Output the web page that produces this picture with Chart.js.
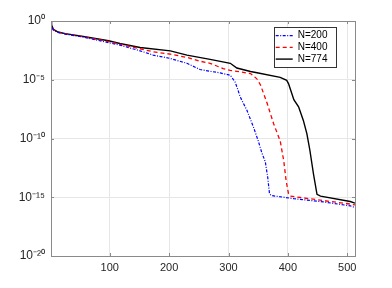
<!DOCTYPE html>
<html>
<head>
<meta charset="utf-8">
<script src="https://cdn.jsdelivr.net/npm/chart.js@4.4.1/dist/chart.umd.min.js"></script>
<style>
  html, body { margin: 0; padding: 0; background: #fff; }
</style>
</head>
<body>
<canvas id="svChart" width="392" height="288"></canvas>
<script>
// values; y is kept as log10 and turned into the value below
const seriesNames = ['N=200', 'N=400', 'N=774'];

const n200X   = [1, 2, 5, 13, 25, 58, 98, 117, 151, 173, 202, 230, 252, 286, 303, 311, 314, 320, 331, 342, 350, 356, 362, 366, 369, 372, 410, 460, 505, 513];
const n200Log = [0, -0.4, -0.77, -0.97, -1.11, -1.4, -1.85, -2.05, -2.54, -2.9, -3.19, -3.6, -4.13, -4.42, -4.62, -5.19, -5.6, -6.5, -7.6, -9.03, -10.2, -11.2, -12.0, -13.3, -14.7, -14.85, -15.12, -15.4, -15.73, -15.87];

const n400X   = [1, 2, 5, 13, 25, 58, 98, 117, 173, 202, 230, 252, 269, 291, 303, 337, 345, 349, 354, 365, 376, 387, 393, 397, 401, 404, 421, 460, 505, 513];
const n400Log = [0, -0.38, -0.75, -0.96, -1.1, -1.37, -1.75, -1.97, -2.62, -2.82, -3.1, -3.42, -3.6, -4.05, -4.2, -4.47, -4.8, -5.0, -5.47, -7.0, -8.75, -10.2, -11.9, -13.6, -14.7, -14.9, -15.02, -15.28, -15.58, -15.65];

const n774X   = [1, 2, 5, 13, 25, 58, 98, 117, 151, 202, 230, 269, 303, 314, 337, 348, 387, 398, 401, 410, 418, 426, 432, 437, 443, 449, 455, 505, 513];
const n774Log = [0, -0.35, -0.72, -0.94, -1.07, -1.34, -1.68, -1.91, -2.25, -2.54, -2.9, -3.27, -3.6, -4.0, -4.3, -4.4, -4.8, -5.05, -5.33, -6.7, -7.3, -8.46, -9.6, -11.0, -13.0, -14.75, -14.9, -15.36, -15.5];

const xTicks = [100, 200, 300, 400, 500];
const yTicks = [1e-20, 1e-15, 1e-10, 1e-5, 1];
const yTickLabels = ['10\u207B\u00B2\u2070', '10\u207B\u00B9\u2075', '10\u207B\u00B9\u2070', '10\u207B\u2075', '10\u2070'];

const fontFam = "'Liberation Sans', Arial, Helvetica, sans-serif";

function toPoints(xs, logs) {
    return xs.map((x, i) => ({ x: x, y: Math.pow(10, logs[i]) }));
}

// matlab style box with inner ticks, and a framed legend inside the axes
const boxPlugin = {
    id: 'boxPlugin',
    afterLayout(chart) {
        const lg = chart.legend;
        const a = chart.chartArea;
        lg.left = a.right - 81;
        lg.top = a.top + 8;
        lg.right = lg.left + 62;
        lg.bottom = lg.top + 40;
    },
    afterDraw(chart) {
        const ctx = chart.ctx;
        const a = chart.chartArea;
        const xs = chart.scales.x;
        const ys = chart.scales.y;
        ctx.save();
        ctx.strokeStyle = '#8a8a8a';
        ctx.lineWidth = 1;
        ctx.strokeRect(Math.round(a.left) + 0.5, Math.round(a.top) + 0.5, Math.round(a.right - a.left), Math.round(a.bottom - a.top));
        ctx.beginPath();
        xTicks.forEach(v => {
            const px = Math.round(xs.getPixelForValue(v)) + 0.5;
            ctx.moveTo(px, a.bottom); ctx.lineTo(px, a.bottom - 3);
            ctx.moveTo(px, a.top); ctx.lineTo(px, a.top + 3);
        });
        yTicks.forEach(v => {
            const py = Math.round(ys.getPixelForValue(v)) + 0.5;
            ctx.moveTo(a.left, py); ctx.lineTo(a.left + 3, py);
            ctx.moveTo(a.right, py); ctx.lineTo(a.right - 3, py);
        });
        ctx.stroke();

        const lg = chart.legend;
        const bx = Math.round(a.right - 81);
        const by = Math.round(a.top + 6);
        ctx.fillStyle = '#fff';
        ctx.fillRect(bx, by, 62, 40);
        ctx.strokeStyle = '#333';
        ctx.strokeRect(bx + 0.5, by + 0.5, 62, 40);
        ctx.restore();
        lg.draw();
    }
};

const ctx = document.getElementById('svChart').getContext('2d');

const myChart = new Chart(ctx, {
    type: 'line',
    data: {
        datasets: [
            {
                label: seriesNames[0],
                data: toPoints(n200X, n200Log),
                borderColor: '#0000ff',
                borderWidth: 1.2,
                borderDash: [3, 1.5, 1, 1.5],
                pointRadius: 0,
                fill: false
            },
            {
                label: seriesNames[1],
                data: toPoints(n400X, n400Log),
                borderColor: '#ff0000',
                borderWidth: 1.3,
                borderDash: [4, 3],
                pointRadius: 0,
                fill: false
            },
            {
                label: seriesNames[2],
                data: toPoints(n774X, n774Log),
                borderColor: '#000000',
                borderWidth: 1.4,
                pointRadius: 0,
                fill: false
            }
        ]
    },
    options: {
        responsive: false,
        animation: false,
        devicePixelRatio: 1,
        layout: { padding: { left: 0, top: 21, right: 37, bottom: 0 } },
        plugins: {
            tooltip: { enabled: false },
            legend: {
                position: 'chartArea',
                align: 'start',
                labels: {
                    usePointStyle: true,
                    pointStyle: 'line',
                    pointStyleWidth: 17,
                    padding: 1.7,
                    color: '#000',
                    font: { size: 10, family: fontFam },
                    generateLabels: (chart) => {
                        const items = Chart.defaults.plugins.legend.labels.generateLabels(chart);
                        items.forEach(it => {
                            const ds = chart.data.datasets[it.datasetIndex];
                            it.lineDash = ds.borderDash || [];
                            it.lineWidth = ds.borderWidth;
                            it.strokeStyle = ds.borderColor;
                        });
                        return items;
                    }
                }
            }
        },
        scales: {
            x: {
                type: 'linear',
                min: 1,
                max: 513,
                afterBuildTicks: (scale) => { scale.ticks = xTicks.map(v => ({ value: v })); },
                afterFit: (scale) => { scale.height = 32; },
                grid: { color: '#e6e6e6', drawTicks: false },
                border: { display: false },
                ticks: {
                    padding: 5,
                    color: '#262626',
                    maxRotation: 0,
                    font: { size: 11, family: fontFam },
                    callback: (v) => String(v)
                }
            },
            y: {
                type: 'logarithmic',
                min: 1e-20,
                max: 1,
                afterBuildTicks: (scale) => { scale.ticks = yTicks.map(v => ({ value: v })); },
                afterFit: (scale) => { scale.width = 51; },
                grid: { color: '#e6e6e6', drawTicks: false },
                border: { display: false },
                ticks: {
                    padding: 6,
                    color: '#262626',
                    font: { size: 12, family: fontFam },
                    callback: (v) => yTickLabels[yTicks.indexOf(v)]
                }
            }
        }
    },
    plugins: [boxPlugin]
});
</script>
</body>
</html>
